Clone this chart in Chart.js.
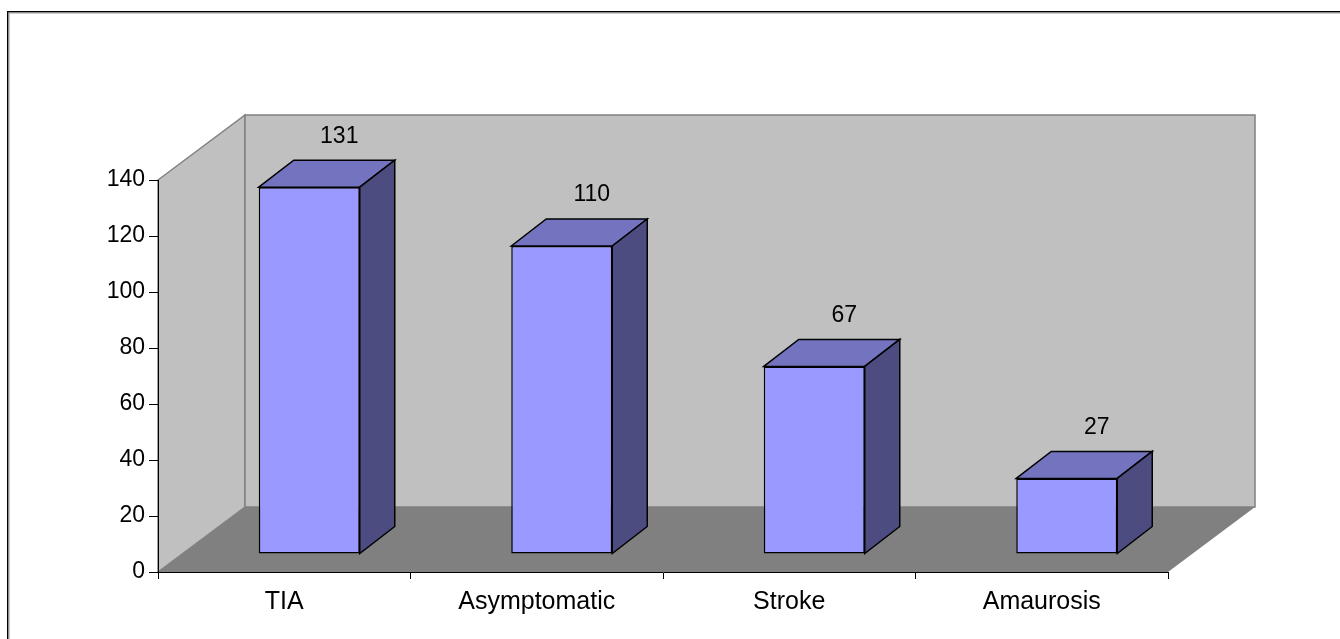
<!DOCTYPE html>
<html>
<head>
<meta charset="utf-8">
<script src="https://cdn.jsdelivr.net/npm/chart.js@4"></script>
<style>
  body { margin: 0; background: #fff; overflow: hidden; }
  #wrap { width: 1340px; height: 639px; position: relative; }
</style>
</head>
<body>
<div id="wrap"><canvas id="grafico"></canvas></div>
<script>
const categorias = ["TIA", "Asymptomatic", "Stroke", "Amaurosis"];
const valores = [131, 110, 67, 27];
const ticksY = [0, 20, 40, 60, 80, 100, 120, 140];

// profundidade das paredes e das barras (efeito 3D)
const PAREDE_DX = 87, PAREDE_DY = 65;
const BARRA_DX = 25, BARRA_DY = 18;
const LADO_DX = 35, LADO_DY = 27;

const fonte = "'Liberation Sans', Arial, sans-serif";

function poligono(ctx, pts, fill, stroke, lw) {
  ctx.beginPath();
  ctx.moveTo(pts[0][0], pts[0][1]);
  for (let i = 1; i < pts.length; i++) ctx.lineTo(pts[i][0], pts[i][1]);
  ctx.closePath();
  if (fill) { ctx.fillStyle = fill; ctx.fill(); }
  if (stroke) { ctx.strokeStyle = stroke; ctx.lineWidth = lw || 1; ctx.stroke(); }
}

const efeito3D = {
  id: "efeito3D",
  beforeDraw(chart) {
    const ctx = chart.ctx;
    const { left: L, right: R, top: T, bottom: B } = chart.chartArea;
    ctx.save();
    // moldura (so topo e esquerda aparecem)
    ctx.fillStyle = "#000";
    ctx.fillRect(7, 11, 1333, 1.5);
    ctx.fillRect(7, 11, 1.5, 628);
    ctx.fillStyle = "#999";
    ctx.fillRect(8.5, 12.5, 1332, 1);
    ctx.fillRect(8.5, 12.5, 1, 627);
    // chao
    poligono(ctx, [[L, B], [R, B], [R + PAREDE_DX, B - PAREDE_DY], [L + PAREDE_DX, B - PAREDE_DY]], "#808080");
    // parede lateral
    poligono(ctx, [[L, T], [L + PAREDE_DX, T - PAREDE_DY], [L + PAREDE_DX, B - PAREDE_DY], [L, B]], "#C0C0C0", "#808080", 1.5);
    // parede do fundo
    poligono(ctx, [[L + PAREDE_DX, T - PAREDE_DY], [R + PAREDE_DX, T - PAREDE_DY], [R + PAREDE_DX, B - PAREDE_DY], [L + PAREDE_DX, B - PAREDE_DY]], "#C0C0C0", "#808080", 1.5);
    ctx.restore();
  },
  beforeDatasetsDraw(chart) {
    chart.ctx.save();
    chart.ctx.translate(BARRA_DX, -BARRA_DY);
  },
  afterDatasetsDraw(chart) {
    const ctx = chart.ctx;
    const meta = chart.getDatasetMeta(0);
    ctx.lineJoin = "miter";
    meta.data.forEach(bar => {
      const { x, y, base, width } = bar.getProps(["x", "y", "base", "width"], true);
      const e = x - width / 2, d = x + width / 2;
      // topo
      poligono(ctx, [[e, y], [e + LADO_DX, y - LADO_DY], [d + LADO_DX, y - LADO_DY], [d, y]], "#7373C0", "#000", 1.5);
      // lado
      poligono(ctx, [[d, y], [d + LADO_DX, y - LADO_DY], [d + LADO_DX, base - LADO_DY], [d, base]], "#4C4C80", "#000", 1.5);
    });
    ctx.restore();

    // rotulos de valor
    ctx.save();
    ctx.font = "23px " + fonte;
    ctx.fillStyle = "#000";
    ctx.textAlign = "center";
    ctx.textBaseline = "middle";
    meta.data.forEach((bar, i) => {
      ctx.fillText(valores[i], bar.x + BARRA_DX + 30, bar.y - BARRA_DY - 51);
    });
    ctx.restore();
  }
};

new Chart(document.getElementById("grafico"), {
  type: "bar",
  data: {
    labels: categorias,
    datasets: [{
      data: valores,
      backgroundColor: "#9999FF",
      borderColor: "#000",
      borderWidth: 1.5,
      borderSkipped: false,
      categoryPercentage: 1,
      barPercentage: 0.4,
      clip: false
    }]
  },
  options: {
    responsive: true,
    maintainAspectRatio: false,
    animation: false,
    layout: { padding: { left: 0, top: 180, right: 172, bottom: 0 } },
    plugins: { legend: { display: false }, tooltip: { enabled: false } },
    scales: {
      x: {
        grid: { display: true, offset: true, drawOnChartArea: false, tickLength: 7, color: "#000" },
        border: { display: true, color: "#000", width: 1 },
        ticks: { color: "#000", font: { family: fonte, size: 25 }, padding: 8, maxRotation: 0 },
        afterFit(scale) { scale.height = 67; }
      },
      y: {
        min: 0,
        max: 140,
        afterBuildTicks(scale) { scale.ticks = ticksY.map(v => ({ value: v })); },
        grid: { display: true, drawOnChartArea: false, tickLength: 9, color: "#000" },
        border: { display: true, color: "#000", width: 1 },
        ticks: { color: "#000", font: { family: fonte, size: 23 }, padding: 4 },
        afterFit(scale) { scale.width = 158; }
      }
    }
  },
  plugins: [efeito3D]
});
</script>
</body>
</html>
